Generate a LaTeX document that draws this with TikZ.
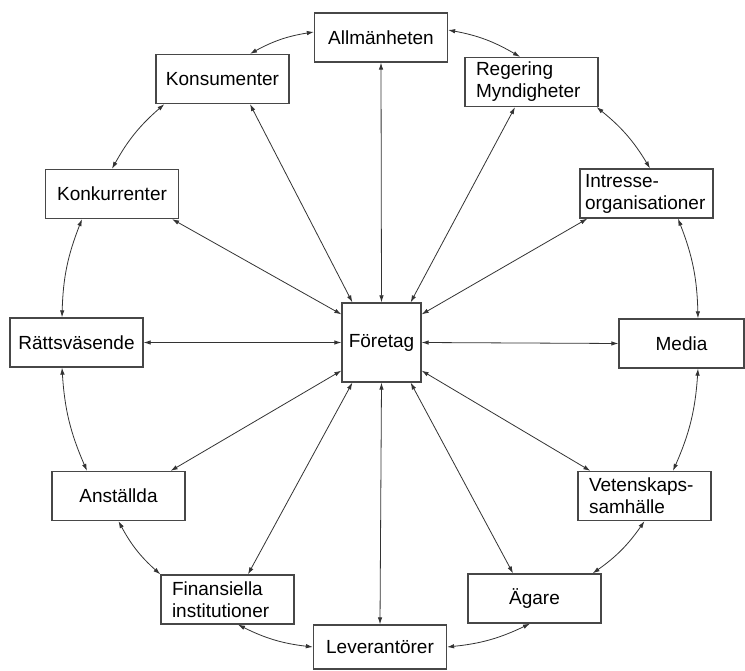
\documentclass[tikz,border=0pt]{standalone}
\usepackage{fontspec}
\setmainfont{Liberation Sans}
\usetikzlibrary{arrows.meta}
\begin{document}
\begin{tikzpicture}[x=1pt,y=1pt,
  box/.style={draw=black!72, line width=1.3pt, fill=white,
    minimum width=133pt, minimum height=49pt, inner sep=0pt,
    font=\fontsize{19}{22}\selectfont},
  twoline/.style={box, align=left, inner xsep=11pt, text width=111pt},
  link/.style={draw=black!80, line width=0.8pt,
    {Latex[length=7pt,width=4.5pt]}-{Latex[length=7pt,width=4.5pt]}},
  ring/.style={link, bend right=10}]
\useasboundingbox (0,0) rectangle (745,670);

% central company
\node[box, minimum width=79pt, minimum height=79pt] (firm) at (381.5,327.5) {Företag};

% stakeholders around the company
\node[box] (pub)   at (381,632.5) {Allmänheten};
\node[box] (cons)  at (222.5,591) {Konsumenter};
\node[twoline] (gov) at (531.5,588) {Regering\\Myndigheter};
\node[box] (comp)  at (112,476) {Konkurrenter};
\node[twoline, inner xsep=5pt, text width=123pt] (org) at (646.5,476.5) {Intresse-\\organisationer};
\node[box] (law)   at (76.5,327.5) {Rättsväsende};
\node[box, minimum width=125pt] (media) at (681.5,326.5) {Media};
\node[box] (staff) at (118.5,174) {Anställda};
\node[twoline] (sci) at (644.5,174) {Vetenskaps-\\samhälle};
\node[twoline] (fin) at (227.5,70.5) {Finansiella\\institutioner};
\node[box] (own)   at (534.5,71.5) {Ägare};
\node[box, minimum height=44pt] (sup) at (380,23) {Leverantörer};

% spokes from the company
\draw[link] (firm.north) -- (pub.south);
\draw[link] ([xshift=11pt]firm.north west) -- ([xshift=27.5pt]cons.south);
\draw[link] ([xshift=-11pt]firm.north east) -- ([xshift=-16.5pt]gov.south);
\draw[link] ([yshift=-12pt]firm.north west) -- ([xshift=-7pt]comp.south east);
\draw[link] ([yshift=-12pt]firm.north east) -- ([xshift=8pt]org.south west);
\draw[link] (firm.west) -- (law.east);
\draw[link] (firm.east) -- (media.west);
\draw[link] ([yshift=12pt]firm.south west) -- ([xshift=-15pt]staff.north east);
\draw[link] ([yshift=12pt]firm.south east) -- ([xshift=13pt]sci.north west);
\draw[link] ([xshift=11pt]firm.south west) -- ([xshift=20.5pt]fin.north);
\draw[link] ([xshift=-11pt]firm.south east) -- ([xshift=-21.5pt]own.north);
\draw[link] (firm.south) -- (sup.north);

% outer ring between neighbours
\draw[ring] ([xshift=16.5pt]media.north) to ([xshift=31.5pt]org.south);
\draw[ring] ([xshift=3.5pt]org.north) to ([xshift=-2pt]gov.south east);
\draw[ring] ([xshift=-11.5pt]gov.north) to ([yshift=7.5pt]pub.east);
\draw[ring] ([yshift=5.5pt]pub.west) to ([xshift=27.5pt]cons.north);
\draw[ring] ([xshift=9pt]cons.south west) to (comp.north);
\draw[ring] ([xshift=-30pt]comp.south) to ([xshift=-14.5pt]law.north);
\draw[ring] ([xshift=-14.5pt]law.south) to ([xshift=-31.5pt]staff.north);
\draw[ring] (staff.south) to (fin.north west);
\draw[ring] ([xshift=10.5pt]fin.south) to (sup.west);
\draw[ring] (sup.east) to ([xshift=-4.5pt]own.south);
\draw[ring] ([xshift=-9pt]own.north east) to (sci.south);
\draw[ring] ([xshift=28.5pt]sci.north) to ([xshift=16.5pt]media.south);
\end{tikzpicture}
\end{document}
